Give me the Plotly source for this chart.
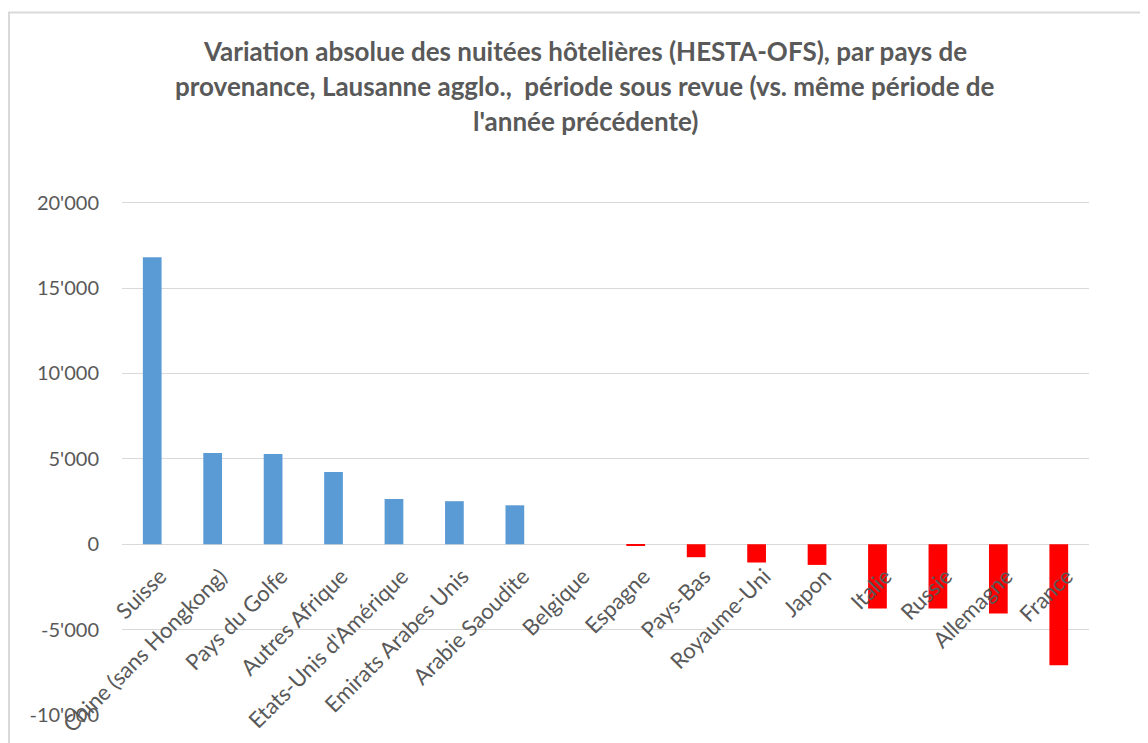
import plotly.graph_objects as go

# Variation absolue des nuitées par pays de provenance
pays = [
    "Suisse", "Chine (sans Hongkong)", "Pays du Golfe", "Autres Afrique",
    "Etats-Unis d'Amérique", "Emirats Arabes Unis", "Arabie Saoudite", "Belgique",
    "Espagne", "Pays-Bas", "Royaume-Uni", "Japon", "Italie", "Russie",
    "Allemagne", "France",
]
variation = [
    16800, 5350, 5280, 4230, 2650, 2520, 2280, 0,
    -100, -760, -1070, -1210, -3760, -3760, -4050, -7080,
]
y_ticks = [-10000, -5000, 0, 5000, 10000, 15000, 20000]
y_labels = ["-10'000", "-5'000", "0", "5'000", "10'000", "15'000", "20'000"]
titre = [
    "Variation absolue des nuitées hôtelières (HESTA-OFS), par pays de",
    "provenance, Lausanne agglo.,  période sous revue (vs. même période de",
    "l'année précédente)",
]

BLEU, ROUGE, GRIS = "#5B9BD5", "#FF0000", "#595959"
OFF = 8                      # marge du <body> de la page
W, H = 1148 - OFF, 743 - OFF
Y_MIN, Y_MAX = -10000, 20100
ML = 122 - OFF
MR = W - (1089 - OFF)
MB = H - (715 - OFF)
ph = (715 - 203) * (Y_MAX - Y_MIN) / 30000
MT = H - MB - ph
pw = W - ML - MR


def px_x(x):
    return (x - OFF - ML) / pw


def px_y(y):
    return (H - MB - (y - OFF)) / ph


fig = go.Figure(go.Bar(
    x=pays, y=variation,
    marker=dict(color=[BLEU if v >= 0 else ROUGE for v in variation], line_width=0),
))

# titre sur trois lignes (interligne Excel)
for i, ligne in enumerate(titre):
    fig.add_annotation(
        text=f"<b>{ligne}</b>", xref="paper", yref="paper",
        x=px_x(585), y=px_y(51 + 35 * i),
        showarrow=False, xanchor="center", yanchor="middle",
        font=dict(family="Lato", size=26, color=GRIS),
    )

# cadre du graphique
fig.add_shape(
    type="rect", xref="paper", yref="paper", layer="below",
    x0=px_x(9), x1=px_x(1160), y0=px_y(760), y1=px_y(13),
    line=dict(color="#D9D9D9", width=2), fillcolor="rgba(0,0,0,0)",
)

fig.update_layout(
    width=W, height=H, showlegend=False,
    margin=dict(l=ML, r=MR, t=MT, b=MB),
    paper_bgcolor="white", plot_bgcolor="white",
    bargap=0.69,
    font=dict(family="Lato", color=GRIS),
    xaxis=dict(
        anchor="free", position=(0 - Y_MIN) / (Y_MAX - Y_MIN),
        showline=False, showgrid=False,
        ticks="", tickangle=-45, ticklabelstandoff=14, ticklabelshift=8,
        tickfont=dict(size=22, color=GRIS), automargin=False,
    ),
    yaxis=dict(
        range=[Y_MIN, Y_MAX], tickvals=y_ticks, ticktext=y_labels,
        showgrid=True, gridcolor="#D9D9D9", gridwidth=1,
        zeroline=True, zerolinecolor="#D9D9D9", zerolinewidth=1,
        showline=False, ticks="", ticklabelstandoff=22,
        tickfont=dict(size=20, color=GRIS), automargin=False,
    ),
)

fig.write_html("out.html")
